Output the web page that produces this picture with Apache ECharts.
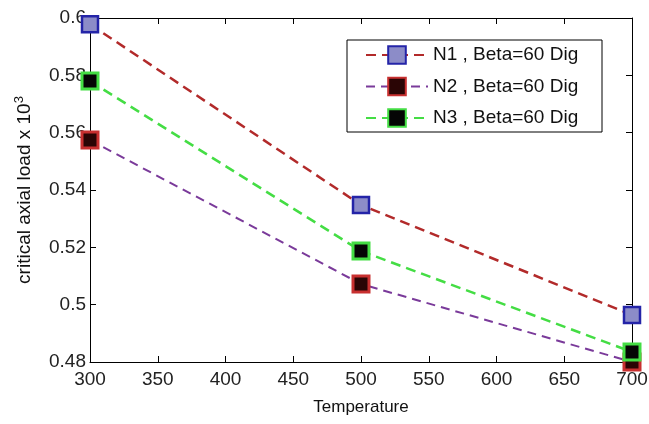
<!DOCTYPE html>
<html>
<head>
<meta charset="utf-8">
<script src="https://cdn.jsdelivr.net/npm/echarts@6/dist/echarts.min.js"></script>
<style>
  html, body { margin: 0; padding: 0; background: #fff; }
  #chart { width: 649px; height: 424px; }
</style>
</head>
<body>
<div id="chart"></div>
<script>
// data
var temperature = [300, 500, 700];
var n1 = [0.5978, 0.5348, 0.4964];
var n2 = [0.5574, 0.5072, 0.4800];
var n3 = [0.5780, 0.5187, 0.4835];
var seriesNames = ['N1 , Beta=60 Dig', 'N2 , Beta=60 Dig', 'N3 , Beta=60 Dig'];

function pairs(ys) {
    return temperature.map(function (t, i) { return [t, ys[i]]; });
}

var chart = echarts.init(document.getElementById('chart'));

var fontFam = 'Liberation Sans, Arial, sans-serif';

var baseAxis = {
    axisLine: { show: true, lineStyle: { color: '#000', width: 1 } },
    axisTick: { show: true, inside: true, length: 6, lineStyle: { color: '#000' } },
    splitLine: { show: false }
};

option = {
    backgroundColor: '#fff',
    animation: false,
    grid: { left: 90, right: 17, top: 18, bottom: 62, containLabel: false, outerBoundsMode: 'none' },
    legend: {
        orient: 'vertical',
        left: 347,
        top: 40,
        padding: [4, 8, 3, 18],
        itemWidth: 62,
        itemHeight: 22,
        itemGap: 9.5,
        backgroundColor: '#fff',
        borderColor: '#000',
        borderWidth: 1,
        borderRadius: 0,
        textStyle: { fontSize: 19, lineHeight: 22, width: 161, color: '#111', fontFamily: fontFam },
        data: seriesNames
    },
    xAxis: [
        Object.assign({}, baseAxis, {
            type: 'value', min: 300, max: 700, interval: 50,
            name: 'Temperature', nameLocation: 'middle', nameGap: 37,
            nameTextStyle: { fontSize: 17, color: '#111', fontFamily: fontFam },
            axisLabel: { fontSize: 19, color: '#222', fontFamily: fontFam, margin: 8 }
        }),
        Object.assign({}, baseAxis, {
            type: 'value', min: 300, max: 700, interval: 50, position: 'top',
            axisLabel: { show: false }
        })
    ],
    yAxis: [
        Object.assign({}, baseAxis, {
            type: 'value', min: 0.48, max: 0.6, interval: 0.02,
            name: '{a|critical axial load x 10}{s|3}', nameLocation: 'middle', nameGap: 54,
            nameTextStyle: {
                rich: {
                    a: { fontSize: 19, color: '#111', fontFamily: fontFam },
                    s: { fontSize: 13, color: '#111', fontFamily: fontFam, verticalAlign: 'top', padding: [0, 0, 10, 0] }
                }
            },
            axisLabel: { fontSize: 19, color: '#222', fontFamily: fontFam, margin: 4 }
        }),
        Object.assign({}, baseAxis, {
            type: 'value', min: 0.48, max: 0.6, interval: 0.02, position: 'right',
            axisLabel: { show: false }
        })
    ],
    series: [
        {
            name: seriesNames[0], type: 'line', data: pairs(n1),
            symbol: 'rect', symbolSize: 16, clip: false,
            lineStyle: { color: '#b22a2a', width: 2.5, type: [10, 6] },
            itemStyle: { color: '#8c8cc8', borderColor: '#2424a8', borderWidth: 2.5 },
            z: 3
        },
        {
            name: seriesNames[1], type: 'line', data: pairs(n2),
            symbol: 'rect', symbolSize: 16, clip: false,
            lineStyle: { color: '#7a3a9a', width: 2, type: [9, 6] },
            itemStyle: { color: '#2a0505', borderColor: '#c83030', borderWidth: 3 },
            z: 2
        },
        {
            name: seriesNames[2], type: 'line', data: pairs(n3),
            symbol: 'rect', symbolSize: 16, clip: false,
            lineStyle: { color: '#44dd44', width: 2.5, type: [10, 6] },
            itemStyle: { color: '#050505', borderColor: '#44dd44', borderWidth: 3 },
            z: 4
        }
    ]
};

chart.setOption(option, true);
</script>
</body>
</html>
